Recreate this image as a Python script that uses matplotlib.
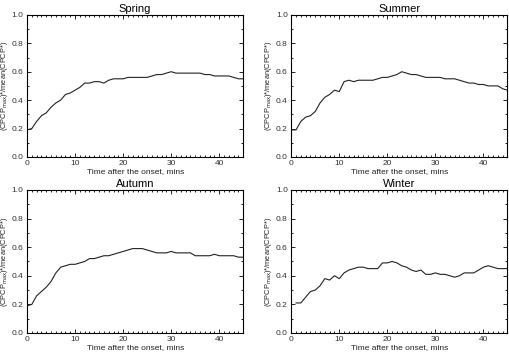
import matplotlib
matplotlib.use("Agg")
import matplotlib.pyplot as plt
from matplotlib.ticker import MultipleLocator

plt.rcParams["font.family"] = ["Liberation Sans", "DejaVu Sans"]

# --- Data (minutes after onset) ---
minutes = list(range(0, 46))

spring = [0.19, 0.20, 0.25, 0.29, 0.31, 0.35, 0.38, 0.40, 0.44, 0.45,
          0.47, 0.49, 0.52, 0.52, 0.53, 0.53, 0.52, 0.54, 0.55, 0.55,
          0.55, 0.56, 0.56, 0.56, 0.56, 0.56, 0.57, 0.58, 0.58, 0.59,
          0.60, 0.59, 0.59, 0.59, 0.59, 0.59, 0.59, 0.58, 0.58, 0.57,
          0.57, 0.57, 0.57, 0.56, 0.55, 0.55]

summer = [0.19, 0.19, 0.25, 0.28, 0.29, 0.32, 0.38, 0.42, 0.44, 0.47,
          0.46, 0.53, 0.54, 0.53, 0.54, 0.54, 0.54, 0.54, 0.55, 0.56,
          0.56, 0.57, 0.58, 0.60, 0.59, 0.58, 0.58, 0.57, 0.56, 0.56,
          0.56, 0.56, 0.55, 0.55, 0.55, 0.54, 0.53, 0.52, 0.52, 0.51,
          0.51, 0.50, 0.50, 0.50, 0.48, 0.47]

autumn = [0.19, 0.20, 0.26, 0.29, 0.32, 0.36, 0.42, 0.46, 0.47, 0.48,
          0.48, 0.49, 0.50, 0.52, 0.52, 0.53, 0.54, 0.54, 0.55, 0.56,
          0.57, 0.58, 0.59, 0.59, 0.59, 0.58, 0.57, 0.56, 0.56, 0.56,
          0.57, 0.56, 0.56, 0.56, 0.56, 0.54, 0.54, 0.54, 0.54, 0.55,
          0.54, 0.54, 0.54, 0.54, 0.53, 0.53]

winter_minutes = list(range(1, 46))
winter = [0.21, 0.21, 0.25, 0.29, 0.30, 0.33, 0.38, 0.37, 0.40, 0.38,
          0.42, 0.44, 0.45, 0.46, 0.46, 0.45, 0.45, 0.45, 0.49, 0.49,
          0.50, 0.49, 0.47, 0.46, 0.44, 0.43, 0.44, 0.41, 0.41, 0.42,
          0.41, 0.41, 0.40, 0.39, 0.40, 0.42, 0.42, 0.42, 0.44, 0.46,
          0.47, 0.46, 0.45, 0.45, 0.45]

panels = [
    ("Spring", minutes, spring, [0.053, 0.558, 0.424, 0.400]),
    ("Summer", minutes, summer, [0.571, 0.558, 0.424, 0.400]),
    ("Autumn", minutes, autumn, [0.053, 0.062, 0.424, 0.403]),
    ("Winter", winter_minutes, winter, [0.571, 0.062, 0.424, 0.403]),
]

fig = plt.figure(figsize=(5.1, 3.55), dpi=100)

for title, x, y, rect in panels:
    ax = fig.add_axes(rect)
    ax.plot(x, y, color="#222222", linewidth=0.8)
    ax.set_xlim(0, 45)
    ax.set_ylim(0, 1.0)
    ax.xaxis.set_major_locator(MultipleLocator(10))
    ax.xaxis.set_minor_locator(MultipleLocator(1))
    ax.yaxis.set_major_locator(MultipleLocator(0.2))
    ax.yaxis.set_minor_locator(MultipleLocator(0.1))
    ax.tick_params(which="both", direction="in", top=True, right=True,
                   labelsize=6, width=0.6, pad=2.5, labelcolor="#333333")
    ax.tick_params(which="major", length=3)
    ax.tick_params(which="minor", length=1.5)
    ax.set_yticklabels([f"{v:.1f}" for v in ax.get_yticks()])
    for s in ax.spines.values():
        s.set_linewidth(0.8)
    ax.set_title(title, fontsize=8, pad=2)
    ax.set_xlabel("Time after the onset, mins", fontsize=6, labelpad=0.5,
                  color="#222222")
    ax.set_ylabel(r"(CPCP$_{\rm max}$)*/mean(CPCP*)", fontsize=5.3,
                  labelpad=1.5, color="#222222")

fig.savefig("out.png", dpi=100)
